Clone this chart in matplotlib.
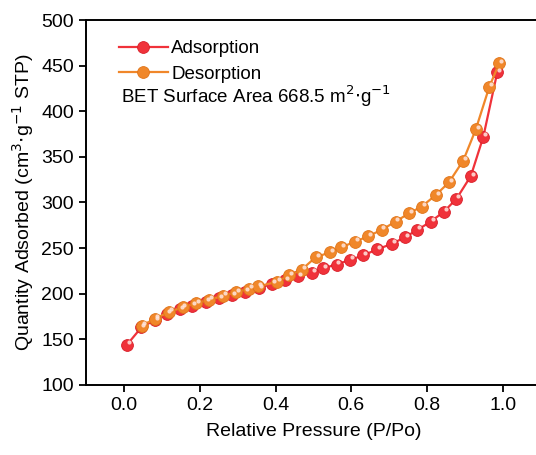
import matplotlib
matplotlib.use('Agg')
import matplotlib.pyplot as plt
from matplotlib.transforms import offset_copy

# Adsorption branch
ads_x = [0.007, 0.045, 0.08, 0.112, 0.147, 0.18, 0.215, 0.25, 0.285, 0.32,
         0.355, 0.39, 0.425, 0.46, 0.495, 0.526, 0.561, 0.596, 0.632, 0.667,
         0.707, 0.742, 0.775, 0.81, 0.845, 0.878, 0.916, 0.949, 0.986]
ads_y = [144, 163, 171, 178, 183, 187, 191, 195, 198.5, 202,
         206, 211, 215, 219, 223, 228, 232, 237, 242, 248.5,
         254.5, 262, 270, 279, 290, 304, 329, 372, 443]

# Desorption branch
des_x = [0.046, 0.081, 0.118, 0.154, 0.19, 0.225, 0.26, 0.295, 0.33, 0.354,
         0.403, 0.436, 0.469, 0.506, 0.545, 0.574, 0.61, 0.645, 0.68, 0.717,
         0.752, 0.786, 0.823, 0.858, 0.896, 0.929, 0.965, 0.991]
des_y = [165, 172.5, 180, 185, 189.5, 193.5, 197.5, 201.5, 205.5, 208,
         213, 220, 226.5, 240, 245.5, 251, 257, 263, 270, 279,
         288, 295.5, 308, 322, 346, 380, 427, 452.5]

x_ticks = [0.0, 0.2, 0.4, 0.6, 0.8, 1.0]
y_ticks = [100, 150, 200, 250, 300, 350, 400, 450, 500]

plt.rcParams['font.family'] = ['Liberation Sans', 'DejaVu Sans']

fig = plt.figure(figsize=(5.36, 4.55), dpi=100)
# right side runs off the picture, as in the original crop
ax = fig.add_axes([0.1613, 0.154, 0.847, 0.802])

red = '#F0323A'
orange = '#F0872A'

def branch(x, y, color, edge, label):
    line, = ax.plot(x, y, '-o', color=color, lw=1.6, ms=8.5,
                    mfc=color, mec=edge, mew=0.6, label=label, zorder=3)
    # little highlight on every ball
    hl = offset_copy(ax.transData, fig=fig, x=1.4, y=1.8, units='points')
    ax.plot(x, y, 'o', ms=3, color='#FFE6E0', mec='none', alpha=0.85,
            transform=hl, zorder=4)
    return line

branch(ads_x, ads_y, red, '#D81E28', 'Adsorption')
branch(des_x, des_y, orange, '#E07418', 'Desorption')

ax.set_xlim(-0.1, 1.1)
ax.set_ylim(100, 500)
ax.set_xticks(x_ticks)
ax.set_xticklabels(['%.1f' % v for v in x_ticks])
ax.set_yticks(y_ticks)
ax.tick_params(direction='out', length=5, width=1.3, labelsize=14, pad=4)

for s in ax.spines.values():
    s.set_linewidth(1.4)
ax.spines['right'].set_visible(False)

ax.set_xlabel('Relative Pressure (P/Po)', fontsize=14, labelpad=6)
ax.set_ylabel('Quantity Adsorbed (cm$^{3}$$\\cdot$g$^{-1}$ STP)', fontsize=14, labelpad=4)

ax.legend(loc='upper left', bbox_to_anchor=(0.055, 0.965), frameon=False,
          fontsize=13.5, handlelength=2.6, handletextpad=0.2,
          labelspacing=0.45, borderaxespad=0)

ax.text(0.075, 0.79, 'BET Surface Area 668.5 m$^{2}$$\\cdot$g$^{-1}$',
        transform=ax.transAxes, fontsize=13.5, va='center', ha='left')

plt.savefig('out.png', dpi=100)
plt.close()
